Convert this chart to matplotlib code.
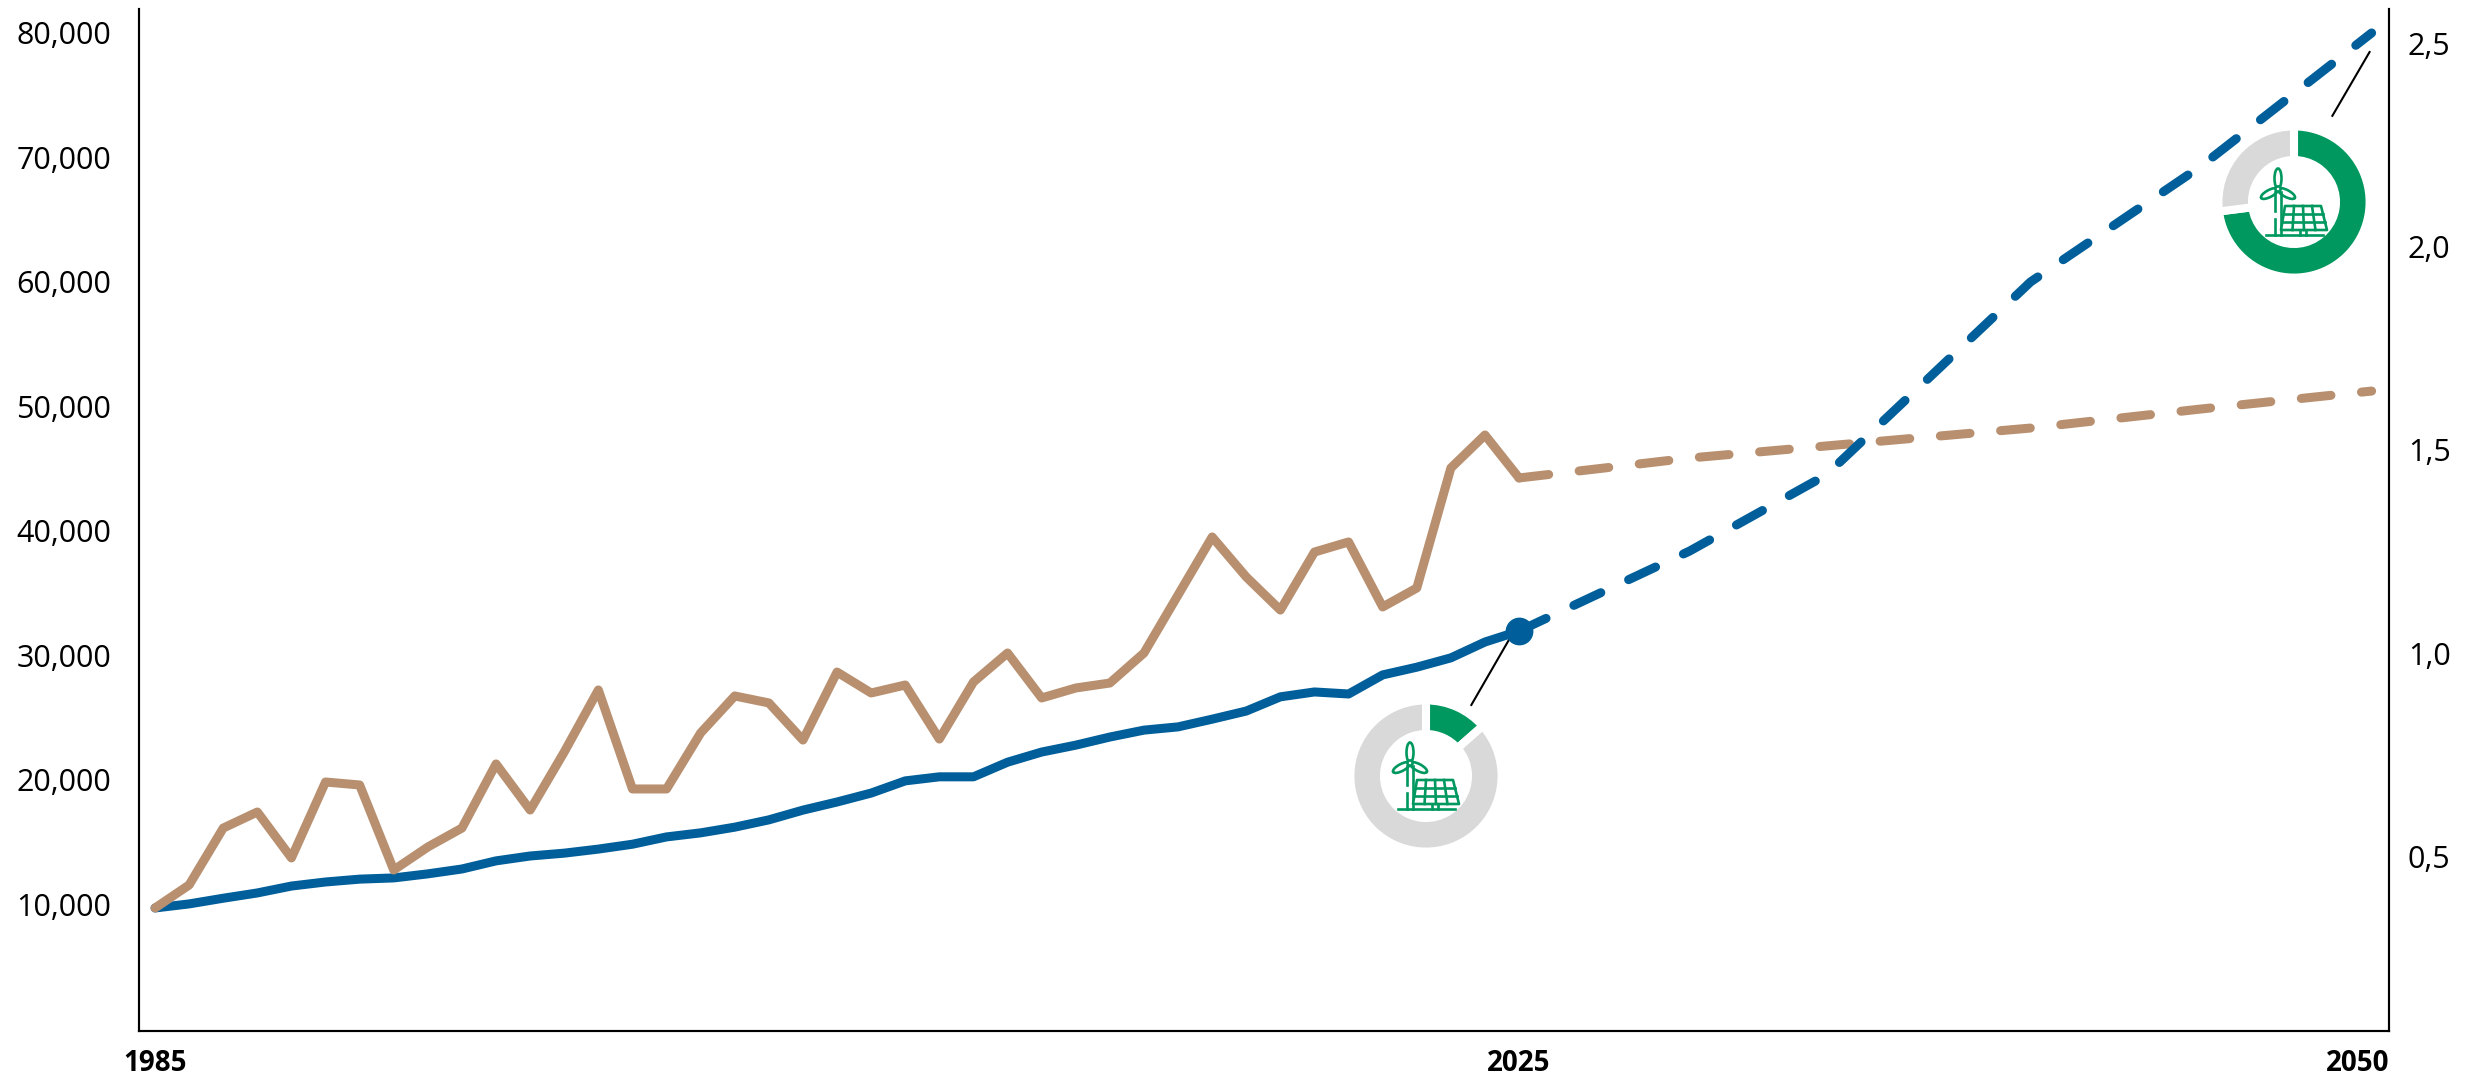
import numpy as np
import matplotlib
matplotlib.use('Agg')
import matplotlib.pyplot as plt
from matplotlib.patches import Ellipse, Circle, Polygon
from matplotlib.transforms import ScaledTranslation

W, H = 2474, 1074
blue = '#005F9A'
brown = '#B89070'
green = '#00985F'
grey = '#D9D9D9'

years_hist = list(range(1985, 2026))
brown_hist = [9880, 11730, 16300, 17590, 13900, 20000, 19760, 12930, 14780, 16300,
              21450, 17750, 22410, 27390, 19440, 19440, 23940, 26910, 26350, 23370,
              28830, 27150, 27790, 23450, 28030, 30360, 26750, 27550, 27950, 30360,
              35020, 39680, 36470, 33810, 38470, 39280, 34060, 35580, 45220, 47870,
              44420]
blue_hist = [0.377, 0.387, 0.401, 0.414, 0.431, 0.441, 0.448, 0.451, 0.461, 0.473,
             0.493, 0.505, 0.512, 0.522, 0.534, 0.552, 0.562, 0.576, 0.594, 0.618,
             0.638, 0.660, 0.690, 0.700, 0.700, 0.736, 0.761, 0.778, 0.798, 0.815,
             0.823, 0.842, 0.862, 0.897, 0.909, 0.904, 0.951, 0.970, 0.993, 1.032,
             1.059]

brown_proj_years = [2025, 2030, 2035, 2040, 2045, 2050]
brown_proj = [44420, 46020, 47230, 48430, 49960, 51400]
blue_proj_years = [2025, 2030, 2034, 2040, 2045, 2050]
blue_proj = [1.059, 1.256, 1.443, 1.919, 2.204, 2.532]

left_ticks = [10000, 20000, 30000, 40000, 50000, 60000, 70000, 80000]
left_labels = ['10,000', '20,000', '30,000', '40,000', '50,000', '60,000', '70,000', '80,000']
right_ticks = [0.5, 1.0, 1.5, 2.0, 2.5]
right_labels = ['0,5', '1,0', '1,5', '2,0', '2,5']
x_ticks = [1985, 2025, 2050]
x_labels = ['1985', '2025', '2050']

green_share = [13.5, 73.0]
leader_2025_x, leader_2025_y = [2023.6, 2024.7], [0.877, 1.037]
leader_2050_x, leader_2050_y = [2048.85, 2049.94], [2.328, 2.485]

plt.rcParams['font.family'] = ['Open Sans', 'DejaVu Sans']

fig = plt.figure(figsize=(W / 100, H / 100), dpi=100)
ax = fig.add_axes([139 / W, 1 - 1031 / H, (2389 - 139) / W, (1031 - 9) / H])
ax2 = ax.twinx()

ax.set_xlim(1984.53, 2050.51)
ax.set_ylim(0, 82087)
ax2.set_ylim(0.074, 2.591)

lw = 6.5
dash = (3.3, 3.4)

# blue history sits under the brown one, dashed blue goes over dashed brown
ax.plot(years_hist, blue_hist, color=blue, lw=lw, transform=ax2.transData, zorder=2,
        solid_capstyle='round', solid_joinstyle='round')
ax.plot(years_hist, brown_hist, color=brown, lw=lw, zorder=3,
        solid_capstyle='round', solid_joinstyle='round')
ax.plot(brown_proj_years, brown_proj, color=brown, lw=lw, zorder=3,
        dashes=dash, dash_capstyle='round')
ax2.plot(blue_proj_years, blue_proj, color=blue, lw=lw, zorder=3,
         dashes=dash, dash_capstyle='round')
ax2.plot(leader_2025_x, leader_2025_y, color='black', lw=1.5, zorder=2)
ax2.plot(leader_2050_x, leader_2050_y, color='black', lw=1.5, zorder=2)
ax2.plot([2025], [blue_hist[-1]], 'o', color=blue, ms=19, zorder=4)

for a in (ax, ax2):
    a.spines['top'].set_visible(False)
    for s in ('left', 'right', 'bottom'):
        a.spines[s].set_linewidth(1.5)

ax.set_yticks(left_ticks, left_labels)
ax2.set_yticks(right_ticks, right_labels)
ax.set_xticks(x_ticks, x_labels)
ax.tick_params(axis='y', length=0, pad=20, labelsize=22)
ax2.tick_params(axis='y', length=0, pad=13.5, labelsize=22)
ax.tick_params(axis='x', length=0, pad=13, labelsize=20)
for t in ax.get_xticklabels():
    t.set_fontweight('bold')
# the last year label is pulled in so it ends at the frame
last = ax.get_xticklabels()[-1]
last.set_transform(last.get_transform() + ScaledTranslation(-14 / 100, 0, fig.dpi_scale_trans))
for t in ax.get_yticklabels() + ax2.get_yticklabels():
    t.set_transform(t.get_transform() + ScaledTranslation(0, 2 / 100, fig.dpi_scale_trans))


def icon(a):
    # small turbine + solar panel, units are pixels from the donut centre
    lw_i = 1.9
    a.plot([-28, 29], [-33, -33], color=green, lw=lw_i)
    a.plot([-13, -13], [10, -33], color=green, lw=lw_i)
    a.plot([-19, -19], [10, -9], color=green, lw=lw_i)
    a.plot([-19, -19], [-17, -33], color=green, lw=lw_i)
    a.add_patch(Ellipse((-16, 23.5), 7, 20, color=green, fill=False, lw=lw_i))
    a.add_patch(Ellipse((-24.5, 8.5), 19, 7, angle=28, color=green, fill=False, lw=lw_i))
    a.add_patch(Ellipse((-7.5, 8.5), 19, 7, angle=-28, color=green, fill=False, lw=lw_i))
    a.add_patch(Circle((-16, 13), 2.6, fc='white', ec=green, lw=lw_i, zorder=3))
    tl, tr, br_, bl = (-9, -4), (27, -4), (33, -28), (-13, -28)
    a.add_patch(Polygon([tl, tr, br_, bl], closed=True, fc='white', ec=green, lw=lw_i,
                        joinstyle='round', zorder=2))
    for f in (1 / 3, 2 / 3):
        a.plot([tl[0] + (bl[0] - tl[0]) * f, tr[0] + (br_[0] - tr[0]) * f],
               [tl[1] + (bl[1] - tl[1]) * f] * 2, color=green, lw=lw_i, zorder=3)
    for f in (1 / 4, 2 / 4, 3 / 4):
        a.plot([tl[0] + (tr[0] - tl[0]) * f, bl[0] + (br_[0] - bl[0]) * f],
               [-4, -28], color=green, lw=lw_i, zorder=3)
    a.plot([6, 6], [-28, -33], color=green, lw=lw_i)
    a.plot([12, 12], [-28, -33], color=green, lw=lw_i)


def donut(cx, cy, share):
    a = fig.add_axes([(cx - 85) / W, 1 - (cy + 85) / H, 170 / W, 170 / H], zorder=5)
    a.pie([share, 100 - share], colors=[green, grey], startangle=90, counterclock=False,
          radius=75.6, wedgeprops={'width': 33.6, 'edgecolor': 'white', 'linewidth': 5.8})
    a.set_xlim(-85, 85)
    a.set_ylim(-85, 85)
    icon(a)


donut(1426, 776, green_share[0])
donut(2294, 202, green_share[1])

fig.savefig('out.png', dpi=100)
